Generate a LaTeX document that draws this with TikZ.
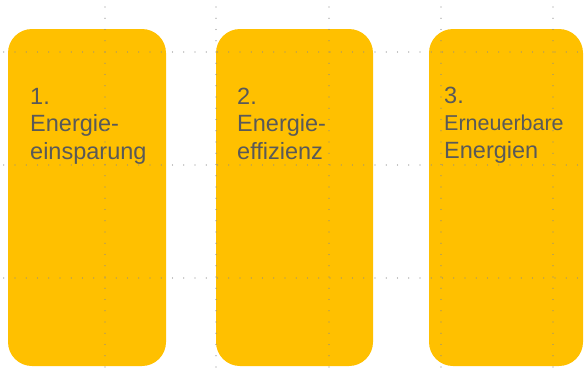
\documentclass[tikz,border=0pt]{standalone}
\usepackage{fontspec}
\setmainfont{Liberation Sans}
\usepackage{tikz}
\definecolor{panelgold}{HTML}{FFC000}
\definecolor{labelgray}{HTML}{595959}
\definecolor{guidegray}{HTML}{8A8A8A}

\begin{document}
\begin{tikzpicture}[x=1pt,y=1pt,
  panel/.style={fill=panelgold, draw=none, rounded corners=24pt, inner sep=0pt},
  label/.style={anchor=base west, align=left, inner sep=0pt, text=labelgray,
    font=\fontsize{23.5}{27.5}\selectfont},
  guide/.style={guidegray, line width=1.2pt, line cap=round,
    dash pattern=on 0pt off 11.25pt}]
  \useasboundingbox (0,0) rectangle (584,-378);
  % the three columns
  \draw (87, -197.5)node[panel, minimum width=158, minimum height=337](p1){};
  \draw (294.5, -197.5)node[panel, minimum width=157, minimum height=337](p2){};
  \draw (506, -197.5)node[panel, minimum width=154, minimum height=337](p3){};
  % texts (base = last line)
  \draw (30, -159)node[label](t1){1.\\Energie-\\einsparung};
  \draw (237, -159)node[label](t2){2.\\Energie-\\effizienz};
  \draw (444, -158)node[label](t3){3.\\{\fontsize{21.5}{27.5}\selectfont Erneuerbare}\\Energien};
  % guides
  \draw[guide] (3.75, -52) -- (584, -52);
  \draw[guide] (3.75, -165) -- (584, -165);
  \draw[guide] (3.75, -278) -- (584, -278);
  \draw[guide] (105, -7) -- (105, -378);
  \draw[guide] (216, -7) -- (216, -378);
  \draw[guide] (329, -7) -- (329, -378);
  \draw[guide] (441, -7) -- (441, -378);
  \draw[guide] (553, -7) -- (553, -378);
\end{tikzpicture}
\end{document}
